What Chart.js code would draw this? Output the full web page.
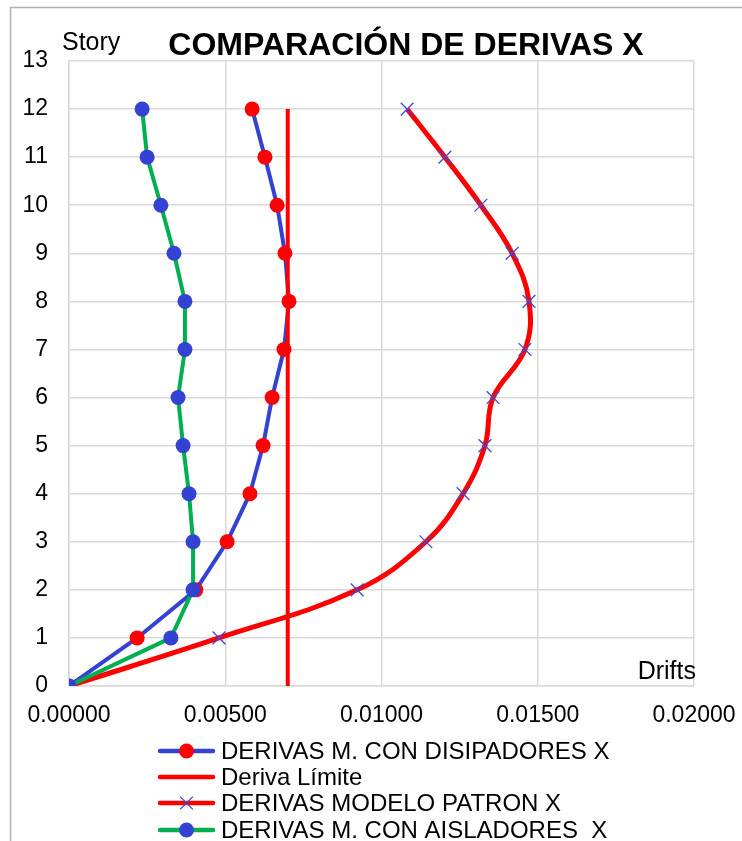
<!DOCTYPE html>
<html>
<head>
<meta charset="utf-8">
<title>Comparación de derivas X</title>
<script src="https://cdn.jsdelivr.net/npm/chart.js@4/dist/chart.umd.min.js"></script>
<style>
  html, body { margin: 0; padding: 0; background: #ffffff; }
  #wrap { position: relative; width: 742px; height: 841px; }
</style>
</head>
<body>
<div id="wrap"><canvas id="chart" width="742" height="841"></canvas></div>
<script>
// Story levels (0 = base)
const stories = [0, 1, 2, 3, 4, 5, 6, 7, 8, 9, 10, 11, 12];

// Inter-story drifts per model
const driftDisipadores = [0, 0.00218, 0.00406, 0.00506, 0.00579, 0.00621, 0.00650, 0.00688, 0.00704, 0.00691, 0.00666, 0.00627, 0.00586];
const driftPatron      = [0, 0.00480, 0.00922, 0.01142, 0.01261, 0.01331, 0.01357, 0.01459, 0.01472, 0.01418, 0.01318, 0.01203, 0.01082];
const driftAisladores  = [0, 0.00326, 0.00397, 0.00397, 0.00384, 0.00365, 0.00349, 0.00371, 0.00371, 0.00336, 0.00294, 0.00250, 0.00234];

// Allowed drift limit and the story range it spans
const driftLimite = 0.007;
const limiteStories = [0, 12];

// Series labels
const seriesLabels = [
  'DERIVAS M. CON DISIPADORES X',
  'Deriva Límite',
  'DERIVAS MODELO PATRON X',
  'DERIVAS M. CON AISLADORES  X'
];

// Axis settings
const xTicks = [0, 0.005, 0.01, 0.015, 0.02];
const yMax = 13;

const BLUE = '#3342d2';
const RED = '#ff0000';
const GREEN = '#00b050';
const FONT = '"Liberation Sans", Arial, sans-serif';

const toPoints = (xs) => xs.map((x, i) => ({ x: x, y: stories[i] }));

const datasets = [
  {
    label: seriesLabels[0],
    data: toPoints(driftDisipadores),
    borderColor: BLUE,
    backgroundColor: RED,
    borderWidth: 4,
    pointStyle: 'circle',
    pointRadius: 7.5,
    pointBorderWidth: 0,
    pointBackgroundColor: RED,
    pointBorderColor: RED,
    showLine: true,
    tension: 0,
    order: 3
  },
  {
    label: seriesLabels[1],
    data: limiteStories.map(s => ({ x: driftLimite, y: s })),
    borderColor: RED,
    backgroundColor: RED,
    borderWidth: 4,
    pointRadius: 0,
    showLine: true,
    tension: 0,
    order: 2
  },
  {
    label: seriesLabels[2],
    data: toPoints(driftPatron),
    borderColor: RED,
    backgroundColor: BLUE,
    borderWidth: 5,
    pointStyle: 'cross',
    rotation: 45,
    pointRadius: 9,
    pointBorderWidth: 1.3,
    pointBorderColor: '#3a4ad8',
    pointBackgroundColor: '#3a4ad8',
    showLine: true,
    tension: 0.4,
    order: 1
  },
  {
    label: seriesLabels[3],
    data: toPoints(driftAisladores),
    borderColor: GREEN,
    backgroundColor: BLUE,
    borderWidth: 4,
    pointStyle: 'circle',
    pointRadius: 7.5,
    pointBorderWidth: 0,
    pointBackgroundColor: BLUE,
    pointBorderColor: BLUE,
    showLine: true,
    tension: 0,
    order: 0
  }
];

// Frame, title, axis captions and the legend, drawn on the canvas
const decorations = {
  id: 'decorations',
  beforeDraw(chart) {
    const ctx = chart.ctx;
    ctx.save();
    ctx.strokeStyle = '#b0b0b0';
    ctx.lineWidth = 1.5;
    ctx.beginPath();
    ctx.moveTo(10.5, 841);
    ctx.lineTo(10.5, 7.5);
    ctx.lineTo(742, 7.5);
    ctx.stroke();
    ctx.restore();
  },
  afterDraw(chart) {
    const ctx = chart.ctx;
    const area = chart.chartArea;
    ctx.save();
    ctx.fillStyle = '#000000';
    ctx.textBaseline = 'middle';

    // Title
    ctx.font = 'bold 32px ' + FONT;
    ctx.textAlign = 'center';
    ctx.fillText('COMPARACIÓN DE DERIVAS X', 406, 46);

    // Axis captions
    ctx.font = '25px ' + FONT;
    ctx.textAlign = 'left';
    ctx.fillText('Story', 62, 43);
    ctx.textAlign = 'right';
    ctx.fillText('Drifts', area.right + 2, 672);

    // Legend
    const rows = [751, 777, 803, 830];
    const x0 = 160, x1 = 213, xm = (x0 + x1) / 2;
    chart.data.datasets.forEach((ds, i) => {
      const y = rows[i];
      ctx.strokeStyle = ds.borderColor;
      ctx.lineWidth = 4.5;
      ctx.lineCap = 'round';
      ctx.beginPath();
      ctx.moveTo(x0, y);
      ctx.lineTo(x1, y);
      ctx.stroke();
      if (ds.pointStyle === 'circle') {
        ctx.fillStyle = ds.pointBackgroundColor;
        ctx.beginPath();
        ctx.arc(xm, y, 7.5, 0, Math.PI * 2);
        ctx.fill();
      } else if (ds.pointStyle === 'cross') {
        ctx.strokeStyle = ds.pointBorderColor;
        ctx.lineWidth = 1.3;
        ctx.lineCap = 'butt';
        const r = 9 * Math.SQRT1_2;
        ctx.beginPath();
        ctx.moveTo(xm - r, y - r); ctx.lineTo(xm + r, y + r);
        ctx.moveTo(xm - r, y + r); ctx.lineTo(xm + r, y - r);
        ctx.stroke();
      }
      ctx.fillStyle = '#000000';
      ctx.font = '24px ' + FONT;
      ctx.textAlign = 'left';
      ctx.fillText(ds.label, 221, y + 1);
    });
    ctx.restore();
  }
};

new Chart(document.getElementById('chart'), {
  type: 'scatter',
  data: { datasets: datasets },
  options: {
    responsive: false,
    animation: false,
    devicePixelRatio: 1,
    layout: { padding: { left: 10, right: 48, top: 61, bottom: 105 } },
    plugins: {
      legend: { display: false },
      title: { display: false },
      tooltip: { enabled: false }
    },
    scales: {
      x: {
        type: 'linear',
        min: 0,
        max: 0.02,
        afterFit(scale) {
          scale.height = 50;
          scale.paddingLeft = 0;
          scale.paddingRight = 0;
        },
        afterBuildTicks(scale) { scale.ticks = xTicks.map(v => ({ value: v })); },
        ticks: {
          color: '#000000',
          font: { family: FONT, size: 23 },
          padding: 16,
          maxRotation: 0,
          autoSkip: false,
          callback: (v) => Number(v).toFixed(5)
        },
        grid: { color: '#d9d9d9', lineWidth: 1.5, drawTicks: false },
        border: { color: '#d9d9d9', width: 1.5 }
      },
      y: {
        type: 'linear',
        min: 0,
        max: yMax,
        afterFit(scale) {
          scale.width = 59;
          scale.paddingTop = 0;
          scale.paddingBottom = 0;
        },
        ticks: {
          stepSize: 1,
          color: '#000000',
          font: { family: FONT, size: 23 },
          padding: 21,
          autoSkip: false
        },
        grid: { color: '#d9d9d9', lineWidth: 1.5, drawTicks: false },
        border: { color: '#d9d9d9', width: 1.5 }
      }
    }
  },
  plugins: [decorations]
});
</script>
</body>
</html>
